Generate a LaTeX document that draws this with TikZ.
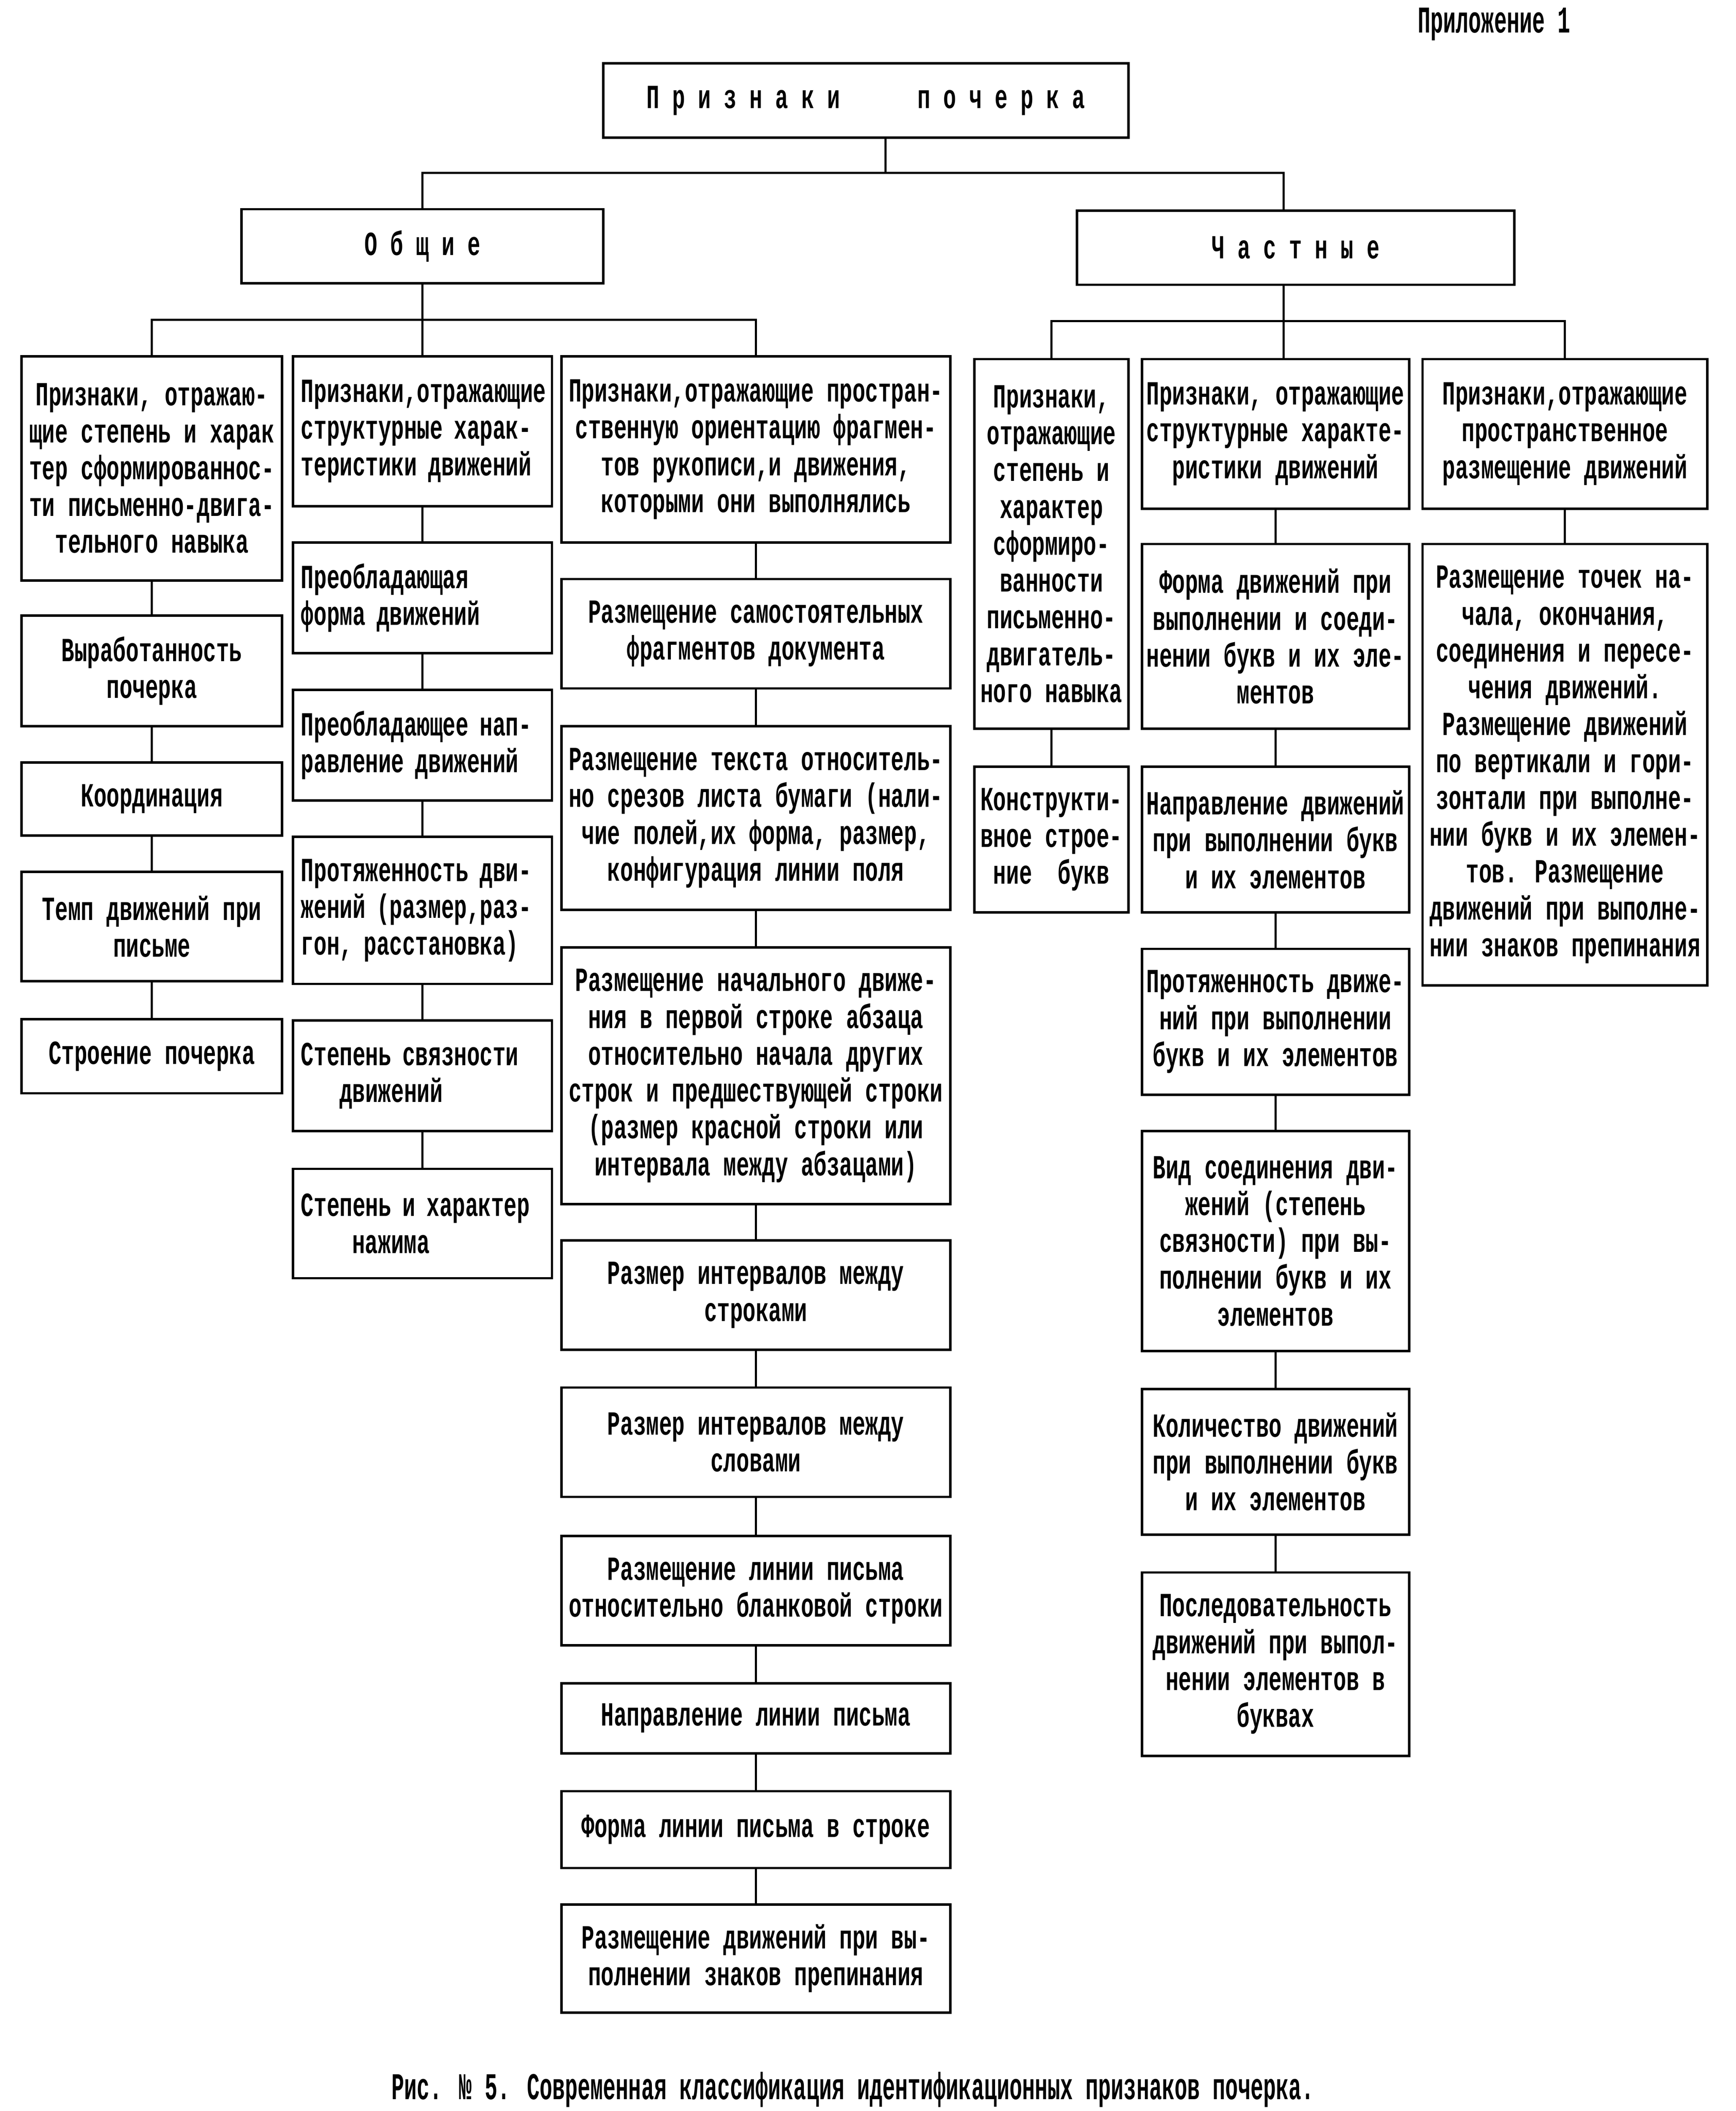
\documentclass[tikz,border=0pt]{standalone}
\usepackage{fontspec}
\newfontfamily\boxfont{Liberation Mono}[FakeStretch=0.637]
\newfontfamily\capfont{Liberation Mono}[FakeStretch=0.56]
\usetikzlibrary{calc}
\tikzset{
  box/.style={draw, line width=1.8pt, inner sep=0pt,
    font=\boxfont\bfseries\fontsize{25}{27.3}\selectfont},
  conn/.style={line width=1.5pt},
  captext/.style={inner sep=0pt, font=\capfont\bfseries\fontsize{28}{30}\selectfont},
}
% centred box: name x1 y1 x2 y2 text
\newcommand\bx[6]{%
  \pgfmathsetmacro\myw{#4-#2}\pgfmathsetmacro\myh{#5-#3}%
  \node[box, minimum width=\myw pt, minimum height=\myh pt, align=center]
    (#1) at ({(#2+#4)/2},{(#3+#5)/2}) {#6};}
% left aligned box
\newcommand\bxl[6]{%
  \pgfmathsetmacro\myw{#4-#2}\pgfmathsetmacro\myh{#5-#3}\pgfmathsetmacro\mytw{#4-#2-12}%
  \node[box, minimum width=\myw pt, minimum height=\myh pt, text width=\mytw pt, align=left]
    (#1) at ({(#2+#4)/2},{(#3+#5)/2}) {#6};}
\begin{document}
\begin{tikzpicture}[x=1pt,y=-1pt]
\fill[white] (0,0) rectangle (1286,1564);
\useasboundingbox (0,0) rectangle (1286,1564);

\node[captext] (app) at (1107,18) {Приложение 1};

\bx{root}{447}{47}{836}{102}{П~р~и~з~н~а~к~и~~~~~~п~о~ч~е~р~к~а}
\bx{obsh}{179}{155}{447}{210}{О~б~щ~и~е}
\bx{chast}{798}{156}{1122}{211}{Ч~а~с~т~н~ы~е}

% level 3
\bx{L1}{16}{264}{209}{430}{Признаки, отражаю-\\щие степень и харак\\тер сформированнос-\\ти письменно-двига-\\тельного навыка}
\bxl{M1}{217}{264}{409}{375}{Признаки,отражающие\\структурные харак-\\теристики движений}
\bx{N1}{416}{264}{704}{402}{Признаки,отражающие простран-\\ственную ориентацию фрагмен-\\тов рукописи,и движения,\\которыми они выполнялись}
\bx{R1}{722}{266}{836}{540}{Признаки,\\отражающие\\степень и\\характер\\сформиро-\\ванности\\письменно-\\двигатель-\\ного навыка}
\bx{R2}{846}{266}{1044}{377}{Признаки, отражающие\\структурные характе-\\ристики движений}
\bx{R3}{1054}{266}{1265}{377}{Признаки,отражающие\\пространственное\\размещение движений}

% column L
\bx{L2}{16}{456}{209}{538}{Выработанность\\почерка}
\bx{L3}{16}{565}{209}{619}{Координация}
\bx{L4}{16}{646}{209}{727}{Темп движений при\\письме}
\bx{L5}{16}{755}{209}{810}{Строение почерка}

% column M
\bxl{M2}{217}{402}{409}{484}{Преобладающая\\форма движений}
\bxl{M3}{217}{511}{409}{593}{Преобладающее нап-\\равление движений}
\bxl{M4}{217}{620}{409}{729}{Протяженность дви-\\жений (размер,раз-\\гон, расстановка)}
\bxl{M5}{217}{756}{409}{838}{Степень связности\\\hspace*{28.6pt}движений}
\bxl{M6}{217}{866}{409}{947}{Степень и характер\\\hspace*{38pt}нажима}

% column N
\bx{N2}{416}{429}{704}{510}{Размещение самостоятельных\\фрагментов документа}
\bx{N3}{416}{538}{704}{674}{Размещение текста относитель-\\но срезов листа бумаги (нали-\\чие полей,их форма, размер,\\конфигурация линии поля}
\bx{N4}{416}{702}{704}{892}{Размещение начального движе-\\ния в первой строке абзаца\\относительно начала других\\строк и предшествующей строки\\(размер красной строки или\\интервала между абзацами)}
\bx{N5}{416}{919}{704}{1000}{Размер интервалов между\\строками}
\bx{N6}{416}{1028}{704}{1109}{Размер интервалов между\\словами}
\bx{N7}{416}{1138}{704}{1219}{Размещение линии письма\\относительно бланковой строки}
\bx{N8}{416}{1247}{704}{1299}{Направление линии письма}
\bx{N9}{416}{1327}{704}{1384}{Форма линии письма в строке}
\bx{N10}{416}{1411}{704}{1491}{Размещение движений при вы-\\полнении знаков препинания}

% column R1
\bx{R1b}{722}{568}{836}{676}{Конструкти-\\вное строе-\\ние~~букв}

% column R2
\bx{R2b}{846}{403}{1044}{540}{Форма движений при\\выполнении и соеди-\\нении букв и их эле-\\ментов}
\bx{R2c}{846}{568}{1044}{676}{Направление движений\\при выполнении букв\\и их элементов}
\bx{R2d}{846}{703}{1044}{811}{Протяженность движе-\\ний при выполнении\\букв и их элементов}
\bx{R2e}{846}{838}{1044}{1001}{Вид соединения дви-\\жений (степень\\связности) при вы-\\полнении букв и их\\элементов}
\bx{R2f}{846}{1029}{1044}{1137}{Количество движений\\при выполнении букв\\и их элементов}
\bx{R2g}{846}{1165}{1044}{1301}{Последовательность\\движений при выпол-\\нении элементов в\\буквах}

% column R3
\bx{R3b}{1054}{403}{1265}{730}{Размещение точек на-\\чала, окончания,\\соединения и пересе-\\чения движений.\\Размещение движений\\по вертикали и гори-\\зонтали при выполне-\\нии букв и их элемен-\\тов. Размещение\\движений при выполне-\\нии знаков препинания}

\node[captext] (cap) at (632,1548) {Рис. № 5. Современная классификация идентификационных признаков почерка.};

% connectors
\coordinate (b1) at (656,128);
\coordinate (b1l) at (313,128);
\coordinate (b1r) at (951,128);
\draw[conn] (b1 |- root.south) -- (b1);
\draw[conn] (b1l |- obsh.north) -- (b1l) -- (b1r) -- (b1r |- chast.north);
\coordinate (b2) at (313,237);
\draw[conn] (obsh.south) -- (b2);
\draw[conn] (L1.north) -- (L1.north |- b2) -- (N1.north |- b2) -- (N1.north);
\draw[conn] (M1.north) -- (M1.north |- b2);
\coordinate (b3) at (951,238);
\draw[conn] (b3 |- chast.south) -- (b3);
\draw[conn] (R1.north) -- (R1.north |- b3) -- (R3.north |- b3) -- (R3.north);
\draw[conn] (b3) -- (b3 |- R2.north);

\foreach \a/\b in {L1/L2,L2/L3,L3/L4,L4/L5,
                   M1/M2,M2/M3,M3/M4,M4/M5,M5/M6,
                   N1/N2,N2/N3,N3/N4,N4/N5,N5/N6,N6/N7,N7/N8,N8/N9,N9/N10,
                   R1/R1b,
                   R2/R2b,R2b/R2c,R2c/R2d,R2d/R2e,R2e/R2f,R2f/R2g,
                   R3/R3b}
  \draw[conn] (\a) -- (\b);
\end{tikzpicture}
\end{document}
